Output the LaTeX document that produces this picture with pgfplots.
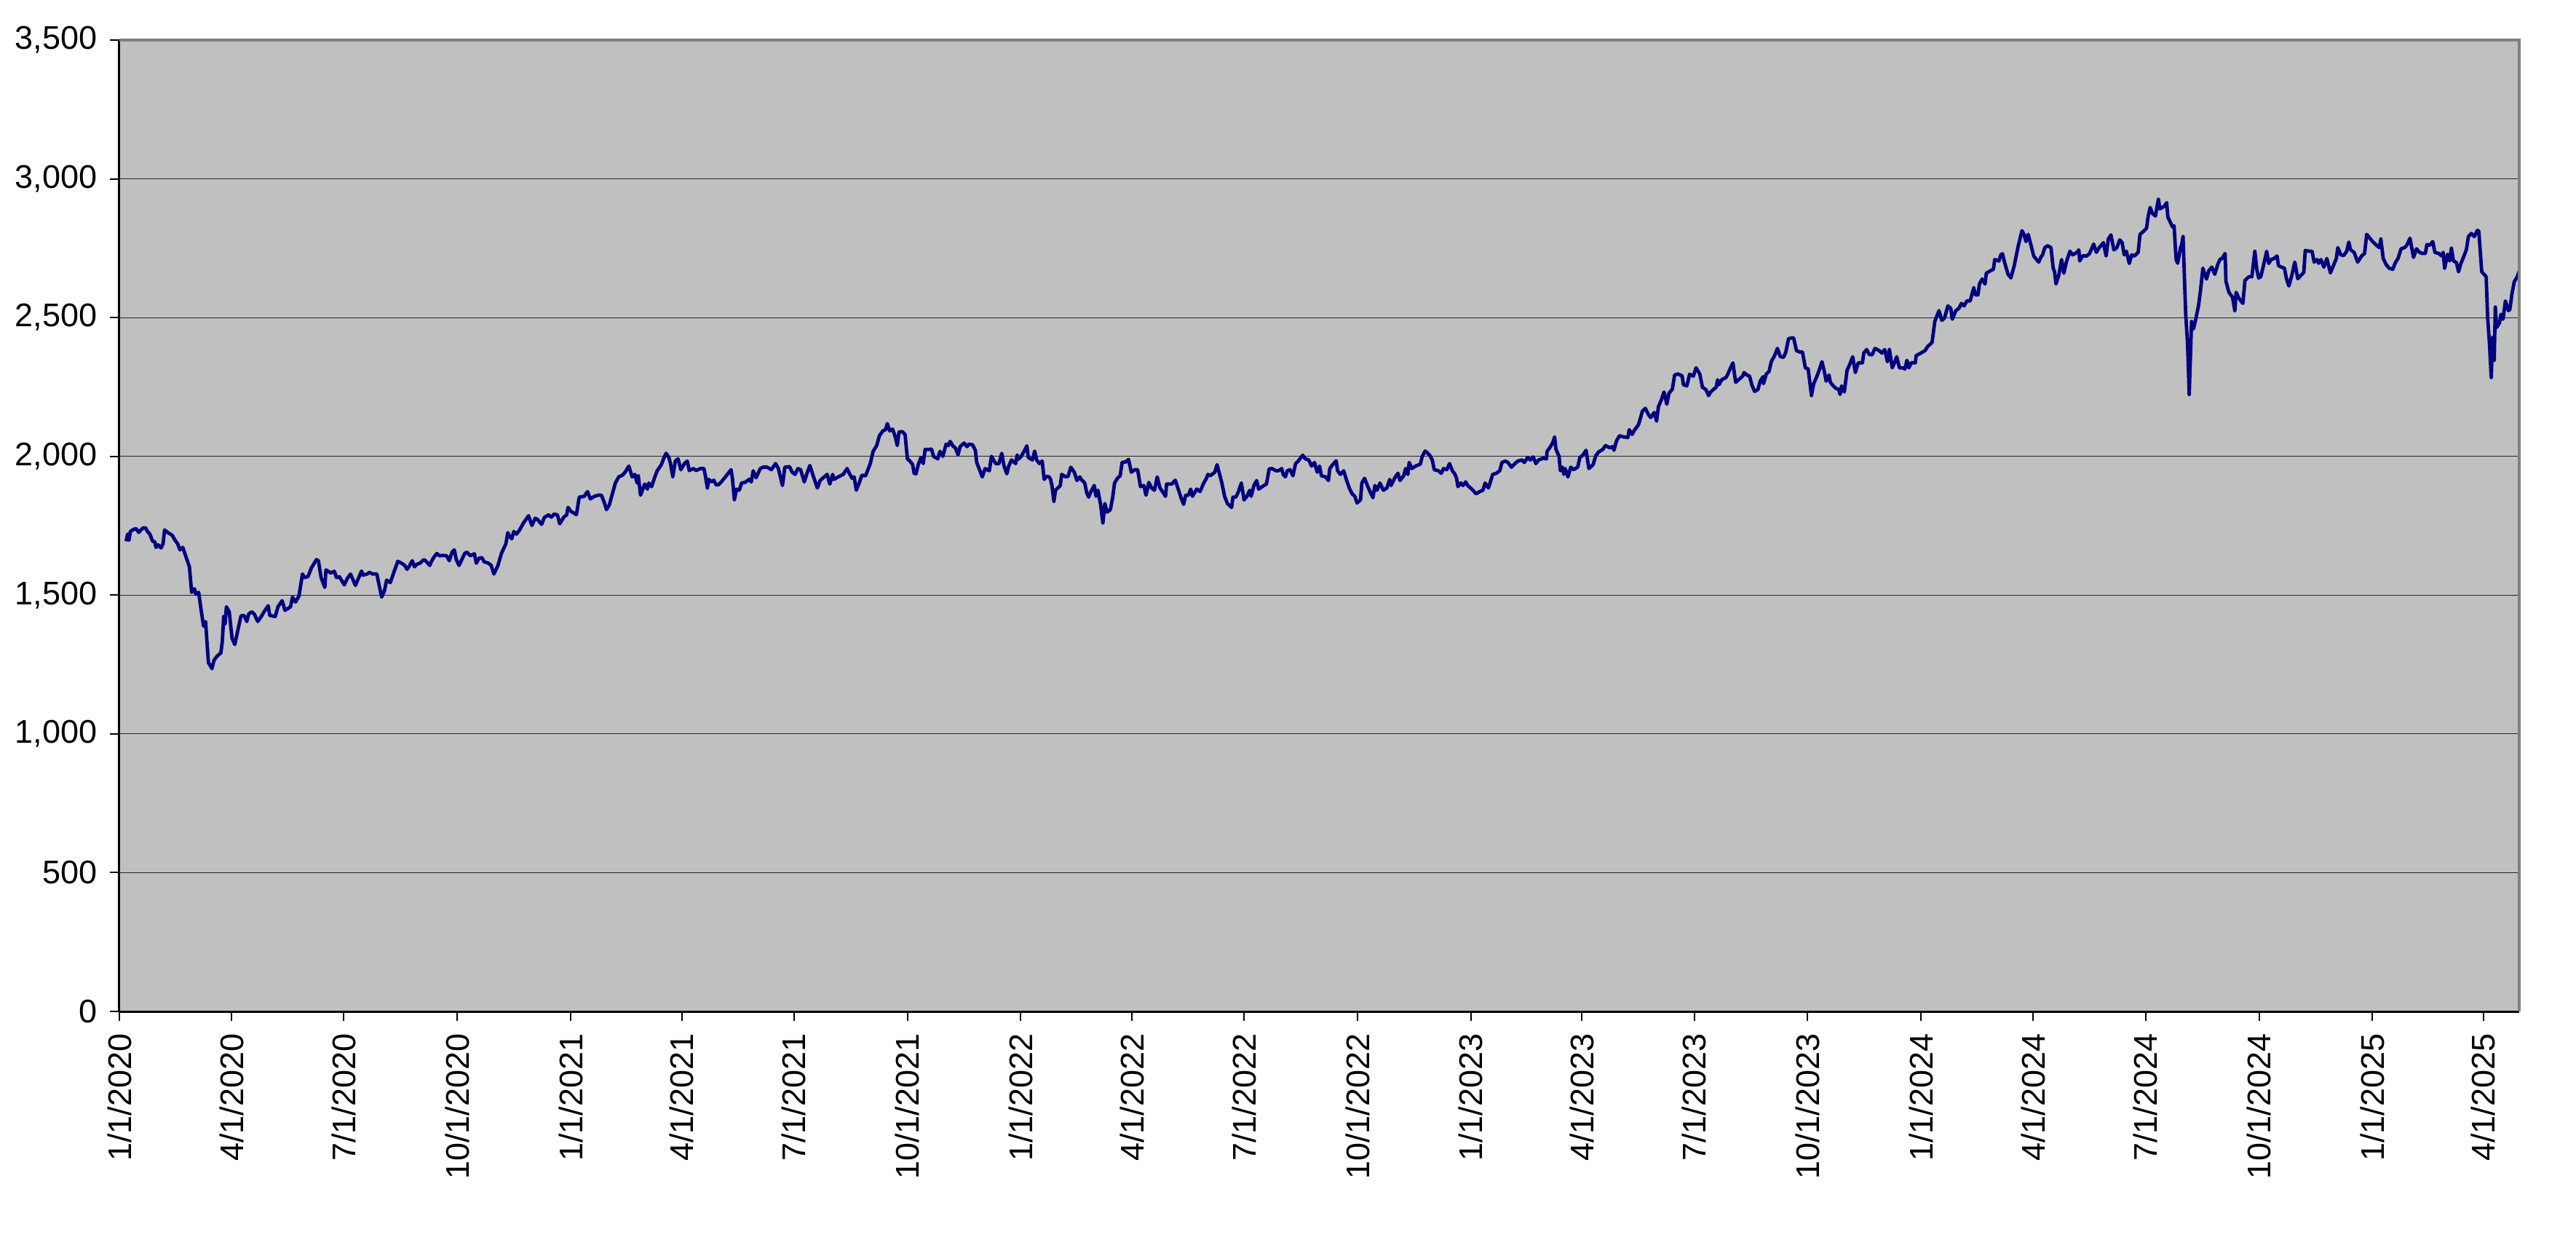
\documentclass[border=0pt]{standalone}
\usepackage{pgfplots}
\pgfplotsset{compat=1.18}
\usepackage{fontspec}
\setmainfont{Liberation Sans}
\definecolor{plotgray}{HTML}{C0C0C0}
\definecolor{bordergray}{HTML}{808080}
\definecolor{navyline}{HTML}{000080}
\begin{document}
\begin{tikzpicture}
\begin{axis}[
  scale only axis, width=659.4pt, height=266.8pt,
  xmin=0, xmax=1946, ymin=0, ymax=3500,
  axis background/.style={fill=plotgray},
  axis lines=left, axis line style={-, black, line width=0.6pt},
  tick align=outside, major tick length=2.6pt,
  tick style={black, line width=0.4pt},
  ymajorgrids, grid style={black!85, line width=0.25pt},
  ytick={0,500,1000,1500,2000,2500,3000,3500},
  yticklabels={0,500,{1,000},{1,500},{2,000},{2,500},{3,000},{3,500}},
  xtick={0,91,182,274,366,456,547,639,731,821,912,1004,1096,1186,1277,1369,1461,1552,1643,1735,1827,1917},
  xticklabels={1/1/2020,4/1/2020,7/1/2020,10/1/2020,1/1/2021,4/1/2021,7/1/2021,10/1/2021,1/1/2022,4/1/2022,7/1/2022,10/1/2022,1/1/2023,4/1/2023,7/1/2023,10/1/2023,1/1/2024,4/1/2024,7/1/2024,10/1/2024,1/1/2025,4/1/2025},
  tick label style={font=\fontsize{9}{10}\selectfont},
  x tick label style={rotate=90, anchor=east},
  clip=false,
]
\addplot[navyline, line width=0.95pt, line join=round, mark=none] coordinates {
(5.5,1694)(6.7,1720)(7.8,1698)(8.9,1729)(11.2,1736)(13.5,1740)(15.7,1726)(19.1,1742)(21.4,1742)(22.5,1731)
(24.7,1720)(27,1694)(28.8,1692)(29.7,1672)(31.5,1681)(33.8,1670)(35.4,1685)(36.7,1735)(39.4,1725)(42.8,1716)
(45.1,1698)(47.3,1685)(49.1,1663)(51.4,1672)(54.1,1637)(56.8,1602)(58.6,1510)(60.9,1523)(62,1503)(64.3,1510)
(66.5,1440)(68.3,1388)(69.9,1405)(72.2,1257)(75.1,1235)(76.7,1265)(79,1279)(82.3,1292)(83.5,1335)(84.6,1423)
(85.7,1397)(86.8,1458)(89.1,1440)(91.4,1344)(93.6,1322)(95.9,1370)(98.6,1425)(101.1,1427)(103.3,1405)(104.9,1432)
(107.2,1440)(109.4,1432)(112.2,1405)(115.1,1423)(117.3,1440)(120.7,1462)(121.9,1427)(126.4,1423)(128.6,1458)(132,1480)
(134.3,1445)(138.8,1458)(140.4,1493)(142.9,1475)(145.6,1497)(148.5,1576)(150.1,1563)(153,1567)(155.7,1598)(159.8,1628)
(161.4,1624)(163.6,1563)(166.6,1528)(167.5,1591)(171.5,1580)(174.3,1586)(176.1,1563)(178.3,1567)(180.1,1554)(182.4,1537)
(184.7,1559)(187.4,1576)(189.6,1554)(191.4,1535)(194.1,1563)(196.4,1587)(197.5,1572)(200.9,1576)(202.7,1582)(205.4,1576)
(208.8,1576)(210.4,1541)(212.7,1493)(214.9,1515)(216.7,1554)(219.7,1545)(222.4,1580)(224.2,1602)(225.8,1622)(229.1,1614)
(231.4,1607)(233.2,1593)(234.8,1602)(237.5,1624)(239.3,1602)(241.1,1611)(243.8,1615)(246.8,1628)(248.3,1624)(251.7,1607)
(252.9,1620)(255.1,1637)(257.4,1650)(259.6,1642)(261.9,1643)(265.3,1642)(267.5,1624)(269.8,1655)(271.6,1663)(273.2,1628)
(275.4,1607)(277.7,1628)(280,1650)(281.8,1655)(284.5,1642)(287.9,1649)(289.4,1615)(291.7,1633)(294,1635)(295.8,1620)
(299.2,1615)(301.4,1608)(303.7,1576)(307,1607)(309.8,1650)(313.4,1685)(315,1725)
(316.4,1711)(318.2,1703)(319.8,1729)(322,1720)(324.3,1733)(327.7,1760)(331.8,1786)(334.5,1751)(337.2,1777)(339,1773)
(342.4,1755)(344.6,1780)(348,1789)(350.3,1781)(352.5,1792)(355.2,1789)(357.1,1757)(360.4,1781)(362.7,1789)(363.8,1816)
(366.1,1802)(370.6,1790)(372.9,1853)(376.9,1856)(379.6,1873)(381.9,1847)(385.3,1856)(388.2,1860)(390.9,1860)(393.2,1834)
(395,1808)(397.3,1825)(400,1869)(402.2,1904)(404.9,1926)(407.9,1932)(410.1,1943)(413.1,1965)(415.8,1926)(418,1935)
(419.8,1904)(420.8,1930)(422.6,1860)(426,1900)(428.2,1882)(429.3,1904)(431.6,1891)(433.8,1921)(436.1,1948)(439.5,1970)
(441.7,1996)(443.3,2011)(445.6,1996)(446.9,1974)(448.8,1926)(450.8,1983)(453,1991)(455.3,1952)(458.2,1974)(460.5,1983)
(462.1,1949)(465.5,1956)(467.7,1949)(471.1,1956)(474,1956)(475.2,1930)(476.8,1886)(477.9,1917)(480.2,1908)(482,1914)
(484,1897)(485.8,1898)(488.1,1908)(491.4,1926)(496,1952)(497.1,1921)(498.7,1844)(500.5,1882)(502.7,1878)(504.5,1904)
(507.3,1906)(510.6,1917)(512.4,1908)(514,1948)(516.3,1923)(519.7,1956)(521.9,1961)(525.3,1961)(528.7,1952)(532.1,1974)
(534.4,1956)(537.7,1895)(539.6,1961)(543.4,1963)(545.6,1943)(547.9,1935)(550.2,1956)(552.4,1952)(555.4,1908)(557.6,1939)
(559.9,1967)(562.6,1930)(566,1886)(568.2,1913)(571.6,1926)(573.9,1935)(576.1,1900)(578.4,1935)(579.5,1917)(582.9,1926)
(586.9,1935)(590.1,1956)(591.9,1939)(594.2,1921)(595.8,1926)(597.6,1878)(599.9,1904)(602.1,1932)(605.1,1930)(607.3,1956)
(608.9,1974)(611.2,2018)(614.1,2039)(616.3,2074)(619.1,2092)(621.3,2096)(622.7,2118)(624.7,2092)(627,2098)(629.2,2070)
(630.8,2039)(632.2,2088)(634.9,2089)(637.1,2079)(639,1991)
(641,1983)(643.3,1970)(644.4,1939)(646,1937)(647.8,1970)(650,1996)(651.8,1974)(653.4,2025)(656.4,2025)(658.6,2026)
(660.2,2000)(663.6,1991)(665.4,2018)(667.7,2000)(670.4,2044)(672.2,2039)(673.7,2054)(676,2037)(677.8,2031)(680.1,2006)
(681.7,2035)(685,2048)(687.3,2035)(688.9,2044)(691.8,2042)(694.1,2022)(695.2,1978)(697.5,1952)(699.7,1926)(702,1956)
(705.4,1948)(707.2,2000)(708.8,1987)(710.6,1974)(713.3,1974)(715.5,2011)(717.3,1967)(719.6,1937)(721.2,1965)(723.4,1987)
(726.8,1974)(728,2005)(729.1,1990)(731.3,2000)(733.6,2018)(735.9,2038)(737,1996)(740.4,1987)(742.2,2019)(743.8,1987)
(746,1974)(748.3,1983)(749.9,1917)(751.7,1928)(753.9,1926)(755.1,1917)(756.2,1895)(757.8,1838)(759.1,1878)(763,1895)
(764.1,1935)(767.5,1926)(769.3,1928)(771.5,1961)(774.3,1943)(776.5,1913)(778.8,1926)(779.9,1917)(782.8,1904)(784.4,1869)
(786,1853)(787.8,1873)(790.5,1895)(791.9,1856)(793.5,1878)(795.7,1825)(797.5,1760)(799.1,1830)(800.9,1799)(803.6,1808)
(805.4,1851)(807,1904)(809.3,1921)(811.5,1930)(813.1,1978)(816,1980)(818.3,1989)(820.6,1943)(823.5,1952)(825.7,1952)
(828,1891)(830.7,1895)(832.5,1860)(834.8,1906)(837,1886)(839.3,1878)(841.6,1926)(843.8,1886)(846.5,1869)(848.3,1856)
(849.2,1900)(853.3,1900)(856.2,1914)(858.9,1878)(861.2,1847)(863,1827)(864.6,1860)(866.9,1860)(868.7,1882)(870.2,1856)
(873.6,1882)(876.3,1873)(879.3,1904)(881.5,1921)(882.7,1935)(884.5,1930)(888.3,1943)(890.1,1970)(892.2,1935)(894,1904)
(896.2,1856)(898.5,1830)(901.9,1816)(903,1853)(905.3,1853)(907.1,1869)(909.8,1904)(912,1843)(914.3,1856)(916.6,1878)
(917.7,1856)(920,1895)(922.2,1913)(923.8,1882)(926.7,1891)(930.1,1900)(932.4,1955)(934.6,1956)(938,1948)(940.3,1949)
(942.5,1956)(943.7,1935)(945.5,1926)(947,1948)(949.3,1952)(951.6,1930)(953.8,1974)(956.1,1984)(959.5,2004)(961.7,1991)
(964.4,1987)
(966.8,1965)(969.1,1978)(971.3,1943)(973.2,1965)(974.7,1930)(978.1,1926)(980.4,1913)(981.5,1956)(983.8,1970)(986.7,1984)
(987.8,1948)(990.1,1935)(992.8,1948)(994.6,1921)(997.3,1886)(999.6,1865)(1001.8,1856)(1003.6,1832)(1006.4,1843)(1007.5,1904)
(1009.7,1921)(1012,1895)(1014.9,1865)(1016.5,1851)(1018.1,1895)(1019.9,1878)(1022.2,1904)(1024.9,1878)(1027.8,1886)(1030.1,1917)
(1031.2,1895)(1034.6,1926)(1036.8,1939)(1038.4,1913)(1041.4,1930)(1043,1956)(1044.8,1935)(1045.9,1978)(1048.1,1956)(1051.1,1965)
(1054.9,1972)(1056.5,2000)(1058.8,2019)(1060.6,2013)(1062.8,2002)(1064.6,1987)(1066.2,1952)(1069.6,1948)(1071.9,1939)(1073.7,1956)
(1076.4,1952)(1078.6,1974)(1080.9,1948)(1083.1,1935)(1084.3,1921)(1085.4,1891)(1087.7,1904)(1089.5,1895)(1091.7,1908)(1093.3,1895)
(1096.7,1882)(1100.1,1865)(1103,1873)(1105.7,1878)(1107.5,1904)(1110.2,1886)(1113.6,1935)(1116.6,1939)(1119.3,1948)(1121.1,1978)
(1123.8,1983)(1126,1978)(1128.8,1961)(1131.7,1974)(1134,1983)(1137.4,1987)(1139.2,1978)(1141.9,1996)(1144.1,1987)(1146.4,1998)
(1148.6,1974)(1150.9,1987)(1154.3,1993)(1157.2,1991)(1157.7,2018)(1159.9,2031)(1162.2,2048)(1163.8,2070)(1164.9,2026)(1167.4,2000)
(1168.5,1948)(1170.1,1961)(1171.3,1935)(1172.4,1956)(1174.6,1926)(1176.9,1961)(1179.1,1952)(1182.5,1961)(1184.3,1996)(1186.6,2004)
(1189.3,2022)(1191.6,1956)(1195,1970)(1197.2,2002)(1199.5,2016)(1202.9,2025)(1205.1,2039)(1208.5,2031)(1210.8,2035)(1211.9,2022)
(1214.1,2057)(1216.4,2074)(1219.8,2070)(1223.2,2068)(1224.3,2096)(1226.6,2079)(1228.8,2096)(1231.8,2114)(1233.3,2136)(1234.9,2162)
(1237.4,2173)(1240.1,2149)(1241.7,2140)(1244.6,2158)(1246.5,2127)(1248,2179)(1250.3,2203)(1252.5,2232)(1254.8,2188)(1256.6,2228)
(1259.3,2242)(1261.1,2293)(1263.8,2297)(1267.2,2290)(1268.3,2258)(1271,2254)(1273.3,2296)(1276.3,2289)(1278.5,2319)(1281.5,2297)
(1283.7,2249)(1286.4,2241)(1288.7,2219)
(1290.3,2232)(1292.6,2241)(1294.8,2249)(1296,2276)(1297.1,2258)(1299.3,2276)(1302.7,2284)(1303.9,2293)(1306.1,2315)(1308.4,2337)
(1310.6,2267)(1314,2280)(1316.3,2289)(1317.4,2302)(1319.7,2293)(1321.9,2289)(1323.7,2258)(1326,2234)(1328.7,2241)(1330.5,2271)
(1332.8,2287)(1333.2,2262)(1335.5,2297)(1337.7,2306)(1339.5,2341)(1342.2,2363)(1344.5,2389)(1346.8,2359)(1349.5,2357)(1351.3,2376)
(1353.5,2424)(1356.2,2427)(1357.6,2427)(1359.9,2381)(1362.6,2376)(1364.8,2376)(1367.1,2319)(1369.4,2315)(1372.1,2219)(1373.9,2262)
(1376.1,2284)(1378.4,2311)(1380.6,2341)(1382.5,2306)(1384,2271)(1386.3,2293)(1387.4,2267)(1389.7,2254)(1391.9,2245)(1394.2,2241)
(1395.3,2223)(1396.5,2254)(1398.7,2232)(1401,2311)(1403.2,2332)(1405.5,2359)(1407.7,2302)(1410,2337)(1413.4,2337)(1414.5,2372)
(1416.8,2385)(1419,2367)(1421.3,2366)(1423.6,2389)(1427,2381)(1429.2,2372)(1431.5,2385)(1433.7,2341)(1435.3,2385)(1437.6,2319)
(1439.4,2337)(1441.2,2359)(1443.4,2319)(1446.1,2319)(1447.9,2315)(1449.5,2346)(1451.1,2319)(1452.9,2337)(1456.3,2337)(1457,2363)
(1460.8,2372)(1464.2,2381)(1466,2394)(1468.3,2404)(1469.9,2411)(1472.1,2486)(1473.2,2499)(1475.5,2525)(1477.8,2490)(1480,2499)
(1482.7,2542)(1485,2534)(1486.3,2494)(1489.1,2525)(1491.8,2534)(1493.6,2551)(1495.8,2542)(1498.1,2560)(1500.8,2560)(1503.7,2608)
(1504.9,2582)(1507.1,2582)(1508.3,2621)(1510.5,2639)(1512.8,2621)(1513.9,2660)(1517.3,2669)(1519.6,2674)(1520.7,2709)(1524.1,2704)
(1525.6,2726)(1527,2730)(1528.6,2700)(1531.5,2656)(1533.8,2643)(1536.5,2687)(1539.9,2761)(1542.8,2813)(1544.4,2800)(1546,2774)
(1547.8,2800)(1550.1,2761)(1552.3,2722)(1554.6,2709)(1556.4,2700)(1558,2717)(1559.5,2726)(1561.3,2752)(1563.6,2759)(1566.3,2752)
(1568.1,2678)(1569.2,2665)(1570.4,2621)(1572.6,2652)(1574.9,2709)(1576.7,2660)(1579,2704)(1581.7,2739)(1583.9,2726)(1587.3,2735)
(1588.9,2744)(1589.6,2704)(1591.9,2722)(1595.2,2722)(1597.5,2730)(1600.9,2765)(1603.1,2735)(1605.4,2752)(1608.8,2770)(1611,2722)
(1612.8,2783)
(1614.9,2798)(1617.3,2744)(1619.7,2752)(1622.1,2780)(1624,2770)(1625.7,2726)(1627.4,2739)(1629.8,2695)(1631.7,2726)(1634.1,2722)
(1637,2735)(1638.5,2800)(1640.9,2809)(1643.8,2822)(1645,2862)(1646.7,2897)(1648.6,2875)(1651,2866)(1653.4,2927)(1654.6,2892)
(1658.2,2901)(1660.1,2914)(1661.1,2862)(1663,2844)(1664.9,2827)(1666.1,2831)(1667.8,2709)(1669,2696)(1671.4,2752)(1672.2,2761)
(1673.4,2792)(1675.5,2516)(1677,2411)(1678.4,2223)(1680.3,2486)(1681.8,2459)(1683.5,2490)(1685.9,2542)(1687.5,2595)(1689.5,2678)
(1692.4,2639)(1694.3,2669)(1696.7,2682)(1699.1,2656)(1701.5,2691)(1703.4,2710)(1705.1,2713)(1707.5,2731)(1708.2,2630)(1710.6,2591)
(1713.5,2573)(1715.4,2525)(1716.4,2591)(1718.8,2569)(1721.9,2551)(1723.6,2634)(1726.8,2647)(1729.2,2647)(1731.6,2739)(1733.2,2674)
(1734.7,2643)(1736.4,2647)(1738.8,2691)(1741.2,2739)(1742.9,2695)(1744.8,2709)(1747.2,2713)(1749.6,2722)(1750.8,2687)(1753.2,2682)
(1755.6,2678)(1757.3,2639)(1759.2,2614)(1761.6,2652)(1764,2700)(1766.4,2640)(1771.3,2663)(1772.5,2742)(1775.6,2739)(1778,2739)
(1779.7,2700)(1782.1,2709)(1783.3,2696)(1785.2,2709)(1787.6,2682)(1790,2713)(1792.9,2661)(1795.3,2687)(1797.7,2713)(1798.9,2752)
(1801.3,2726)(1803.7,2724)(1806.1,2739)(1807.8,2772)(1809.3,2744)(1812.1,2735)(1815,2700)(1818.2,2722)(1820.6,2731)(1822.3,2800)
(1824.7,2787)(1827.1,2774)(1830.2,2761)(1832.6,2752)(1833.8,2783)(1835.7,2713)(1838.1,2691)(1840.5,2678)(1843.4,2674)(1845.8,2700)
(1847.7,2713)(1850.2,2748)(1853,2752)(1854.9,2761)(1857.4,2786)(1860.3,2717)(1862.7,2748)(1865.1,2735)(1867.5,2731)(1869.9,2731)
(1871.1,2763)(1873.5,2761)(1875.9,2774)(1877.6,2735)(1880.7,2731)(1883.1,2722)(1884.3,2735)(1885.5,2678)(1887.9,2728)(1889.6,2704)
(1891,2750)(1892.7,2704)(1895.1,2698)(1896.8,2665)(1898.7,2695)(1901.2,2722)(1903.1,2744)(1904.8,2792)(1907.2,2803)(1909.6,2792)
(1912,2814)(1913.2,2812)(1915.6,2665)(1917.5,2656)(1919.2,2647)(1920.4,2499)(1921.8,2411)(1923.3,2284)(1924.5,2429)(1925.7,2346)
(1926.6,2538)(1927.6,2464)(1930,2481)(1931.2,2512)(1932.9,2494)(1934.8,2560)(1937.2,2525)(1938.4,2529)(1940.1,2586)(1942,2630)
(1944.4,2647)(1946,2667)
};
\draw[bordergray, line width=0.7pt] (rel axis cs:0,1) -- (rel axis cs:1,1) -- (rel axis cs:1,0);
\coordinate (O) at (rel axis cs:0,0);
\end{axis}
\path (O) ++(-32.8pt,-65.6pt) rectangle ++(707.8pt,343.4pt);
\end{tikzpicture}
\end{document}
